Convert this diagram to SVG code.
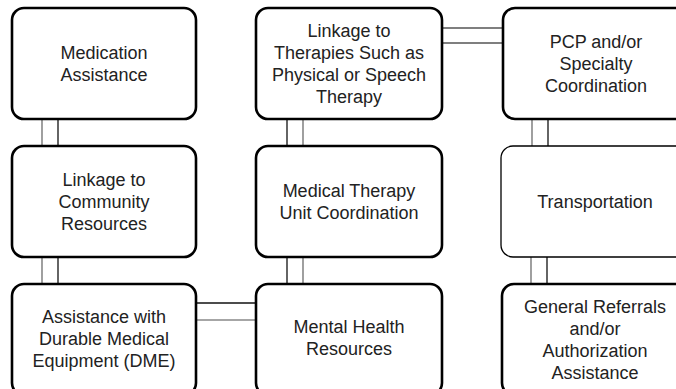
<svg xmlns="http://www.w3.org/2000/svg" width="676" height="389" viewBox="0 0 676 389">
<style>
.box{fill:#fff;stroke:#000;stroke-width:2.6}
.thin{stroke-width:1.3}
.t{font-family:"Liberation Sans",Arial,sans-serif;font-size:18px;fill:#222;text-anchor:middle}
.ck{stroke:#111;stroke-width:1.3;fill:none}
.cg{stroke:#888;stroke-width:1.6;fill:none}
.cd{stroke:#555;stroke-width:1.3;fill:none}
</style>
<rect width="676" height="389" fill="#fff"/>
<g id="connectors">
<line class="cg" x1="42" y1="119" x2="42" y2="146"/>
<line class="ck" x1="58" y1="119" x2="58" y2="146"/>
<line class="cg" x1="42" y1="257" x2="42" y2="284"/>
<line class="ck" x1="58" y1="257" x2="58" y2="284"/>
<line class="ck" x1="287" y1="119" x2="287" y2="146"/>
<line class="cg" x1="303" y1="119" x2="303" y2="146"/>
<line class="ck" x1="287" y1="257" x2="287" y2="284"/>
<line class="cg" x1="303" y1="257" x2="303" y2="284"/>
<line class="cg" x1="532" y1="119" x2="532" y2="146"/>
<line class="ck" x1="548" y1="119" x2="548" y2="146"/>
<line class="cg" x1="531" y1="257" x2="531" y2="284"/>
<line class="ck" x1="547" y1="257" x2="547" y2="284"/>
<line class="cd" x1="442" y1="28" x2="503" y2="28"/>
<line class="cd" x1="442" y1="43" x2="503" y2="43"/>
<line class="ck" x1="196" y1="303" x2="256" y2="303"/>
<line class="cg" x1="196" y1="320" x2="256" y2="320"/>
</g>
<g id="n1"><rect class="box" x="12" y="8" width="184" height="111" rx="12"/>
<text class="t" x="104" y="59">Medication</text><text class="t" x="104" y="81">Assistance</text></g>
<g id="n2"><rect class="box" x="12" y="146" width="184" height="111" rx="12"/>
<text class="t" x="104" y="186">Linkage to</text><text class="t" x="104" y="208">Community</text><text class="t" x="104" y="230">Resources</text></g>
<g id="n3"><rect class="box" x="12" y="284" width="184" height="111" rx="12"/>
<text class="t" x="104" y="323">Assistance with</text><text class="t" x="104" y="345">Durable Medical</text><text class="t" x="104" y="367">Equipment (DME)</text></g>
<g id="n4"><rect class="box" x="256" y="8" width="186" height="111" rx="12"/>
<text class="t" x="349" y="37">Linkage to</text><text class="t" x="349" y="59">Therapies Such as</text><text class="t" x="349" y="81">Physical or Speech</text><text class="t" x="349" y="103">Therapy</text></g>
<g id="n5"><rect class="box" x="256" y="146" width="186" height="111" rx="12"/>
<text class="t" x="349" y="197">Medical Therapy</text><text class="t" x="349" y="219">Unit Coordination</text></g>
<g id="n6"><rect class="box" x="256" y="284" width="186" height="111" rx="12"/>
<text class="t" x="349" y="333">Mental Health</text><text class="t" x="349" y="355">Resources</text></g>
<g id="n7"><rect class="box" x="503" y="8" width="186" height="111" rx="12"/>
<text class="t" x="596" y="48">PCP and/or</text><text class="t" x="596" y="70">Specialty</text><text class="t" x="596" y="92">Coordination</text></g>
<g id="n8"><rect class="box thin" x="501" y="146" width="188" height="111" rx="12"/>
<text class="t" x="595" y="208">Transportation</text></g>
<g id="n9"><rect class="box" x="502" y="284" width="187" height="111" rx="12"/>
<text class="t" x="595" y="313">General Referrals</text><text class="t" x="595" y="335">and/or</text><text class="t" x="595" y="357">Authorization</text><text class="t" x="595" y="379">Assistance</text></g>
</svg>
